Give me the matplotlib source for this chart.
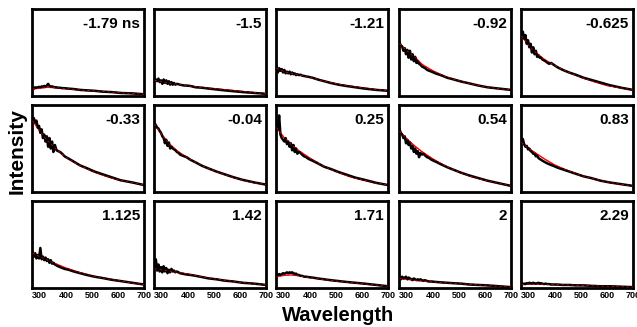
import matplotlib
matplotlib.use("Agg")
import matplotlib.pyplot as plt

plt.rcParams["font.family"] = ["Liberation Sans", "DejaVu Sans"]

# time delays (ns) shown in each panel
DELAYS = ["-1.79 ns", "-1.5", "-1.21", "-0.92", "-0.625",
          "-0.33", "-0.04", "0.25", "0.54", "0.83",
          "1.125", "1.42", "1.71", "2", "2.29"]

# wavelength grid of the measured spectra (nm)
WL_DATA = [272, 277, 282, 287, 292, 297, 302, 307, 312, 317, 322, 327, 332, 337,
           342, 347, 352, 358, 364, 370, 378, 386, 395, 410, 430, 455, 480, 510,
           540, 575, 610, 655, 700]

# wavelength grid of the fitted curves (nm)
WL_FIT = [272, 300, 330, 360, 400, 450, 500, 550, 600, 650, 700]

# measured spectra (normalised intensity), one list per panel
DATA = [
    [0.09, 0.085, 0.10, 0.095, 0.10, 0.105, 0.10, 0.11, 0.105, 0.115, 0.11, 0.12, 0.14, 0.115, 0.11, 0.11, 0.105,
     0.10, 0.10, 0.095, 0.095, 0.09, 0.09, 0.085, 0.08, 0.07, 0.065, 0.06, 0.05, 0.045, 0.035, 0.03, 0.02],
    [0.20, 0.19, 0.17, 0.20, 0.16, 0.18, 0.14, 0.19, 0.15, 0.18, 0.14, 0.17, 0.13, 0.16, 0.13, 0.15, 0.13,
     0.14, 0.135, 0.13, 0.125, 0.12, 0.12, 0.115, 0.10, 0.095, 0.085, 0.075, 0.065, 0.055, 0.045, 0.035, 0.025],
    [0.34, 0.27, 0.32, 0.29, 0.31, 0.27, 0.30, 0.26, 0.28, 0.26, 0.28, 0.25, 0.27, 0.25, 0.26, 0.24, 0.25,
     0.24, 0.245, 0.235, 0.23, 0.225, 0.22, 0.21, 0.19, 0.17, 0.15, 0.13, 0.115, 0.10, 0.085, 0.07, 0.06],
    [0.61, 0.58, 0.57, 0.52, 0.55, 0.48, 0.53, 0.44, 0.52, 0.42, 0.48, 0.40, 0.45, 0.38, 0.40, 0.37, 0.36,
     0.34, 0.33, 0.32, 0.30, 0.29, 0.28, 0.26, 0.24, 0.21, 0.19, 0.165, 0.145, 0.12, 0.10, 0.085, 0.07],
    [0.70, 0.74, 0.66, 0.70, 0.60, 0.64, 0.56, 0.60, 0.50, 0.56, 0.48, 0.52, 0.45, 0.47, 0.44, 0.44, 0.42,
     0.41, 0.40, 0.385, 0.37, 0.38, 0.36, 0.33, 0.30, 0.27, 0.245, 0.21, 0.185, 0.155, 0.125, 0.095, 0.07],
    [0.83, 0.85, 0.80, 0.82, 0.74, 0.76, 0.68, 0.72, 0.62, 0.66, 0.58, 0.64, 0.52, 0.62, 0.50, 0.58, 0.46,
     0.54, 0.48, 0.47, 0.46, 0.44, 0.41, 0.385, 0.35, 0.305, 0.275, 0.235, 0.205, 0.17, 0.135, 0.11, 0.08],
    [0.79, 0.77, 0.74, 0.73, 0.70, 0.68, 0.64, 0.62, 0.56, 0.60, 0.53, 0.57, 0.50, 0.52, 0.50, 0.49, 0.48,
     0.46, 0.45, 0.43, 0.42, 0.41, 0.40, 0.37, 0.34, 0.30, 0.27, 0.235, 0.205, 0.17, 0.14, 0.11, 0.085],
    [0.76, 0.72, 0.88, 0.66, 0.62, 0.60, 0.58, 0.62, 0.55, 0.58, 0.52, 0.56, 0.48, 0.54, 0.46, 0.50, 0.44,
     0.46, 0.45, 0.43, 0.41, 0.40, 0.38, 0.36, 0.33, 0.29, 0.265, 0.23, 0.20, 0.165, 0.14, 0.105, 0.08],
    [0.72, 0.68, 0.66, 0.62, 0.64, 0.56, 0.60, 0.54, 0.57, 0.50, 0.53, 0.46, 0.50, 0.44, 0.47, 0.40, 0.45,
     0.43, 0.44, 0.42, 0.40, 0.39, 0.37, 0.35, 0.32, 0.285, 0.255, 0.22, 0.19, 0.16, 0.13, 0.10, 0.07],
    [0.58, 0.61, 0.55, 0.52, 0.53, 0.49, 0.50, 0.47, 0.46, 0.44, 0.44, 0.41, 0.42, 0.39, 0.38, 0.37, 0.36,
     0.35, 0.34, 0.33, 0.32, 0.31, 0.30, 0.28, 0.26, 0.235, 0.21, 0.18, 0.16, 0.13, 0.11, 0.09, 0.07],
    [0.41, 0.36, 0.40, 0.34, 0.38, 0.34, 0.46, 0.33, 0.36, 0.32, 0.35, 0.31, 0.33, 0.29, 0.32, 0.28, 0.29,
     0.27, 0.26, 0.25, 0.24, 0.23, 0.22, 0.21, 0.19, 0.17, 0.15, 0.13, 0.115, 0.095, 0.08, 0.06, 0.04],
    [0.24, 0.33, 0.20, 0.27, 0.19, 0.24, 0.18, 0.25, 0.19, 0.23, 0.17, 0.21, 0.18, 0.22, 0.19, 0.20, 0.18,
     0.19, 0.18, 0.17, 0.165, 0.16, 0.155, 0.15, 0.14, 0.125, 0.11, 0.10, 0.085, 0.075, 0.06, 0.05, 0.035],
    [0.14, 0.15, 0.16, 0.15, 0.16, 0.17, 0.165, 0.17, 0.18, 0.17, 0.18, 0.175, 0.18, 0.17, 0.16, 0.165, 0.15,
     0.15, 0.14, 0.14, 0.13, 0.13, 0.125, 0.12, 0.11, 0.10, 0.09, 0.08, 0.07, 0.06, 0.05, 0.035, 0.02],
    [0.12, 0.10, 0.13, 0.11, 0.12, 0.13, 0.10, 0.12, 0.11, 0.10, 0.09, 0.11, 0.10, 0.09, 0.10, 0.09, 0.10,
     0.09, 0.085, 0.09, 0.08, 0.075, 0.075, 0.07, 0.065, 0.06, 0.055, 0.05, 0.04, 0.035, 0.03, 0.02, 0.01],
    [0.04, 0.045, 0.05, 0.045, 0.055, 0.05, 0.06, 0.055, 0.05, 0.06, 0.055, 0.05, 0.055, 0.06, 0.05, 0.055, 0.05,
     0.045, 0.05, 0.045, 0.045, 0.04, 0.04, 0.04, 0.035, 0.035, 0.03, 0.03, 0.025, 0.02, 0.02, 0.015, 0.01],
]

# fitted curves, one list per panel
FIT = [
    [0.08, 0.09, 0.10, 0.095, 0.085, 0.07, 0.06, 0.05, 0.04, 0.03, 0.02],
    [0.18, 0.165, 0.15, 0.135, 0.118, 0.097, 0.085, 0.07, 0.055, 0.04, 0.025],
    [0.32, 0.28, 0.26, 0.24, 0.215, 0.175, 0.14, 0.115, 0.095, 0.075, 0.06],
    [0.60, 0.52, 0.45, 0.36, 0.29, 0.22, 0.175, 0.135, 0.105, 0.085, 0.07],
    [0.69, 0.58, 0.49, 0.42, 0.35, 0.275, 0.215, 0.165, 0.12, 0.095, 0.07],
    [0.82, 0.70, 0.59, 0.50, 0.40, 0.31, 0.24, 0.185, 0.14, 0.11, 0.08],
    [0.78, 0.66, 0.55, 0.47, 0.39, 0.31, 0.245, 0.19, 0.145, 0.11, 0.085],
    [0.74, 0.63, 0.54, 0.47, 0.39, 0.30, 0.235, 0.18, 0.14, 0.105, 0.08],
    [0.70, 0.61, 0.53, 0.46, 0.38, 0.295, 0.23, 0.175, 0.135, 0.10, 0.07],
    [0.57, 0.50, 0.44, 0.38, 0.31, 0.245, 0.19, 0.15, 0.115, 0.09, 0.07],
    [0.40, 0.36, 0.32, 0.28, 0.23, 0.18, 0.14, 0.11, 0.085, 0.06, 0.04],
    [0.22, 0.21, 0.195, 0.18, 0.16, 0.13, 0.105, 0.085, 0.065, 0.05, 0.035],
    [0.13, 0.145, 0.15, 0.14, 0.12, 0.10, 0.08, 0.065, 0.05, 0.035, 0.02],
    [0.11, 0.10, 0.09, 0.08, 0.07, 0.06, 0.05, 0.04, 0.03, 0.02, 0.01],
    [0.04, 0.045, 0.045, 0.045, 0.04, 0.035, 0.03, 0.025, 0.02, 0.015, 0.01],
]

XTICKS = [300, 400, 500, 600, 700]

W, H = 637, 327
fig = plt.figure(figsize=(W / 100, H / 100), dpi=100)

col_left = [32, 154, 276, 399, 521]   # px
row_top = [9, 105, 201]               # px
pw, ph = 112, 87

for i, label in enumerate(DELAYS):
    r, c = divmod(i, 5)
    ax = fig.add_axes([col_left[c] / W, 1 - (row_top[r] + ph) / H, pw / W, ph / H])
    ax.plot(WL_FIT, FIT[i], color="red", lw=1.0, zorder=2)
    ax.plot(WL_DATA, DATA[i], color="black", lw=1.8, zorder=3)
    ax.plot(WL_FIT, FIT[i], color="red", lw=0.6, ls=(0, (3, 3)), zorder=4, alpha=0.8)
    ax.set_xlim(270, 700)
    ax.set_ylim(0, 1)
    ax.set_yticks([])
    for s in ax.spines.values():
        s.set_linewidth(2.0)
    ax.text(0.965, 0.91, label, transform=ax.transAxes, ha="right", va="top",
            fontsize=11, fontweight="bold")
    if r == 2:
        ax.set_xticks(XTICKS)
        ax.set_xticklabels([str(t) for t in XTICKS], fontsize=6.5, fontweight="bold")
        ax.tick_params(axis="x", length=0, pad=2.5)
    else:
        ax.set_xticks([])

fig.text(338 / W, 1 - 321 / H, "Wavelength", ha="center", va="baseline",
         fontsize=14.5, fontweight="bold")
fig.text(8 / W, 1 - 151 / H, "Intensity", ha="left", va="center",
         rotation=90, fontsize=15, fontweight="bold")

fig.savefig("out.png", dpi=100)
